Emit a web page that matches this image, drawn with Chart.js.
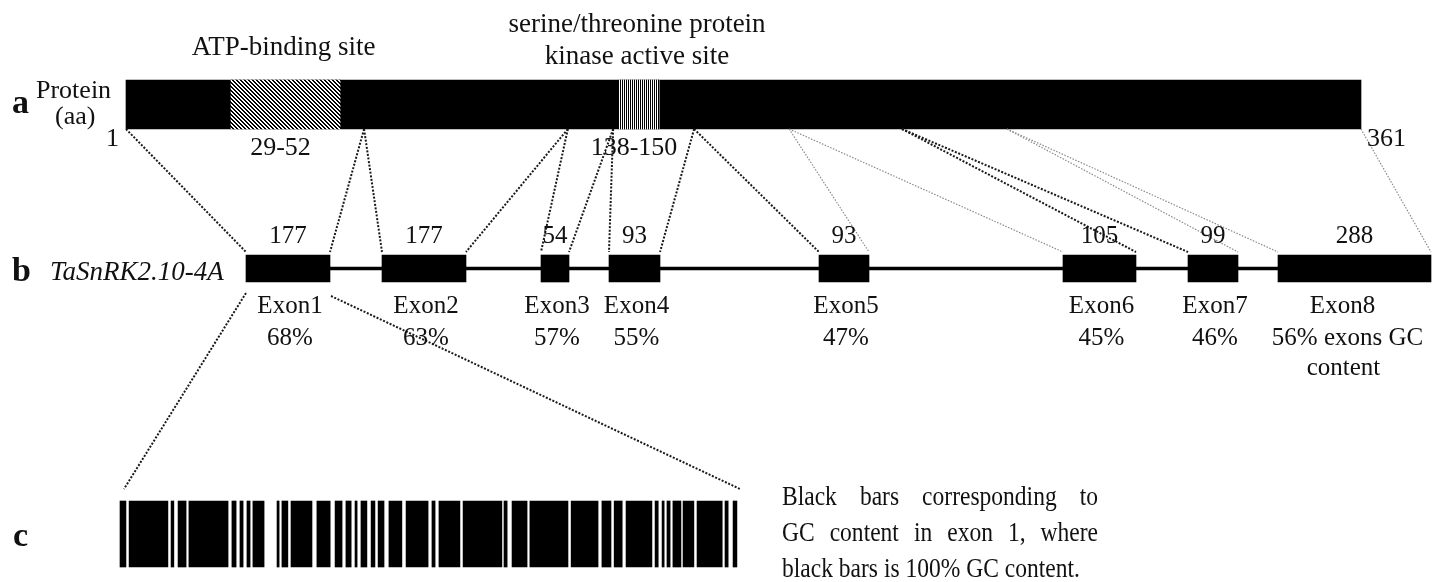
<!DOCTYPE html>
<html>
<head>
<meta charset="utf-8">
<script src="https://cdn.jsdelivr.net/npm/chart.js@4.4.1/dist/chart.umd.min.js"></script>
<style>
  html, body { margin: 0; padding: 0; background: #fff; }
</style>
</head>
<body>
<canvas id="chartGene" width="1445" height="582"></canvas>
<script>
// ---- data ----
const proteinLength = 361;
const domainNames = ['ATP-binding site', 'serine/threonine protein\nkinase active site'];
const domainLabels = ['29-52', '138-150'];
const domainStart = [31.6, 144.7];   // aa, as drawn
const domainEnd = [63.4, 156.4];
const proteinSplit = [70.4, 129.8, 143.0, 166.6, 194.3, 227.2, 257.8]; // aa where exons meet

const geneName = 'TaSnRK2.10-4A';
const exonNames = ['Exon1', 'Exon2', 'Exon3', 'Exon4', 'Exon5', 'Exon6', 'Exon7', 'Exon8'];
const exonLength = [177, 177, 54, 93, 93, 105, 99, 288];
const exonGC = [68, 63, 57, 55, 47, 45, 46, 56];
const exonStart = [0, 272, 590, 726, 1146, 1634, 1884, 2064];   // bp, as drawn
const exonEnd = [168, 440, 646, 828, 1246, 1780, 1984, 2370];

// exon 1 GC runs (nt)
const gcStart = [0, 2.6, 14.6, 16.6, 19.7, 32.0, 34.3, 36.3, 38.0, 44.9, 46.3, 48.9, 56.3, 61.5, 64.6, 67.2, 68.9, 71.8, 73.8, 76.9,
                 81.8, 89.2, 91.2, 98.1, 109.8, 112.1, 117.2, 129.0, 137.8, 141.3, 144.7, 153.0, 155.0, 156.4, 158.1, 161.0, 165.0, 173.0, 175.3];
const gcEnd = [1.7, 13.7, 15.4, 18.9, 30.9, 33.2, 35.2, 37.2, 41.2, 45.5, 48.0, 54.9, 60.1, 63.5, 66.1, 67.8, 70.6, 72.9, 75.5, 80.6,
               88.1, 90.1, 97.2, 109.2, 110.7, 116.4, 128.1, 136.7, 140.4, 143.6, 152.1, 153.9, 155.6, 157.3, 160.4, 164.1, 172.2, 173.9, 176.4];
const exon1Length = 177;

const noteLines = ['Black bars corresponding to', 'GC content in exon 1, where', 'black bars is 100% GC content.'];

// ---- layout ----
const W = 1445, H = 582;
const trackY = { protein: 104.5, gene: 268.5, barcode: 534 };
const thick = { protein: 49, exon: 27, intron: 3, barcode: 66 };
const splitStyle = ['dark', 'dark', 'dark', 'dark', 'light', 'dark', 'light'];
const SERIF = "'Liberation Serif', 'Times New Roman', serif";

// linear x scale that puts value v0 at pixel p0 and v1 at pixel p1
function spanScale(v0, p0, v1, p1) {
    const k = (v1 - v0) / (p1 - p0);
    return { type: 'linear', axis: 'x', display: false, bounds: 'data', offset: false, min: v0 - p0 * k, max: v0 + (W - p0) * k };
}

function makePattern(test) {
    const c = document.createElement('canvas');
    c.width = 4; c.height = 4;
    const g = c.getContext('2d');
    g.fillStyle = '#fff';
    g.fillRect(0, 0, 4, 4);
    g.fillStyle = '#000';
    for (let i = 0; i < 4; i++)
        for (let j = 0; j < 4; j++)
            if (test(i, j)) g.fillRect(i, j, 1, 1);
    return g.createPattern(c, 'repeat');
}
const diagHatch = makePattern((x, y) => ((x - y + 8) % 4) < 2);
const vertHatch = makePattern((x, y) => x % 2 == 0);

function dotted(ctx, x1, y1, x2, y2, style) {
    ctx.save();
    if (style == 'dark') {
        ctx.strokeStyle = '#1a1a1a';
        ctx.lineWidth = 2;
        ctx.setLineDash([2, 1.6]);
    } else {
        ctx.strokeStyle = '#8a8a8a';
        ctx.lineWidth = 1.2;
        ctx.setLineDash([1.5, 1.5]);
    }
    ctx.beginPath();
    ctx.moveTo(x1, y1);
    ctx.lineTo(x2, y2);
    ctx.stroke();
    ctx.restore();
}

function txt(ctx, s, x, y, size, align, style) {
    ctx.font = (style || '') + ' ' + size + 'px ' + SERIF;
    ctx.textAlign = align || 'center';
    ctx.textBaseline = 'alphabetic';
    ctx.fillStyle = '#111';
    ctx.fillText(s, x, y);
}

function justified(ctx, line, x, y, width, sx, justify) {
    ctx.save();
    ctx.translate(x, y);
    ctx.scale(sx, 1);
    ctx.font = '28px ' + SERIF;
    ctx.textAlign = 'left';
    ctx.fillStyle = '#111';
    const words = line.split(' ');
    const widths = words.map(w => ctx.measureText(w).width);
    const total = widths.reduce((a, b) => a + b, 0);
    const gap = justify ? (width / sx - total) / (words.length - 1) : ctx.measureText(' ').width;
    let cx = 0;
    words.forEach((w, i) => {
        ctx.fillText(w, cx, 0);
        cx += widths[i] + gap;
    });
    ctx.restore();
}

const geneArt = {
    id: 'geneArt',
    afterDatasetsDraw(chart) {
        const ctx = chart.ctx;
        const sa = chart.scales.xAa, sb = chart.scales.xBp, sn = chart.scales.xNt, sy = chart.scales.y;
        const pBottom = sy.getPixelForValue(trackY.protein) + thick.protein / 2;
        const gMid = sy.getPixelForValue(trackY.gene);
        const gTop = gMid - thick.exon / 2 - 3;
        const gBottom = gMid + thick.exon / 2;
        const bTop = sy.getPixelForValue(trackY.barcode) - thick.barcode / 2;

        // protein -> exon connectors
        dotted(ctx, sa.getPixelForValue(1), pBottom, sb.getPixelForValue(exonStart[0]), gTop, 'dark');
        proteinSplit.forEach((aa, i) => {
            const px = sa.getPixelForValue(aa);
            dotted(ctx, px, pBottom, sb.getPixelForValue(exonEnd[i]), gTop, splitStyle[i]);
            dotted(ctx, px, pBottom, sb.getPixelForValue(exonStart[i + 1]), gTop, splitStyle[i]);
        });
        dotted(ctx, sa.getPixelForValue(proteinLength), pBottom, sb.getPixelForValue(exonEnd[exonEnd.length - 1]), gTop, 'light');

        // exon 1 -> barcode connectors
        dotted(ctx, sb.getPixelForValue(exonStart[0]), gBottom + 11, sn.getPixelForValue(0) + 4, bTop - 12, 'dark');
        dotted(ctx, sb.getPixelForValue(exonEnd[0]) + 1, gBottom + 14, sn.getPixelForValue(exon1Length) + 1, bTop - 12, 'dark');

        // panel letters
        txt(ctx, 'a', 12, 113, 34, 'left', 'bold');
        txt(ctx, 'b', 12, 281, 34, 'left', 'bold');
        txt(ctx, 'c', 13, 546, 34, 'left', 'bold');

        // protein row text
        txt(ctx, 'Protein', 36, 98, 26, 'left');
        txt(ctx, '(aa)', 55, 124, 26, 'left');
        txt(ctx, '1', sa.getPixelForValue(1) - 7, pBottom + 17, 26, 'right');
        txt(ctx, String(proteinLength), sa.getPixelForValue(proteinLength) + 6, pBottom + 17, 26, 'left');
        domainNames.forEach((name, i) => {
            const cx = sa.getPixelForValue((domainStart[i] + domainEnd[i]) / 2);
            const lines = name.split('\n');
            const base = lines.length > 1 ? 64 : 55;
            lines.forEach((ln, j) => txt(ctx, ln, cx - 2, base - (lines.length - 1 - j) * 32, 27));
            txt(ctx, domainLabels[i], cx - 5, pBottom + 26, 26);
        });

        // gene row text
        txt(ctx, geneName, 50, 280, 27, 'left', 'italic');
        exonNames.forEach((name, i) => {
            const cx = sb.getPixelForValue((exonStart[i] + exonEnd[i]) / 2);
            txt(ctx, String(exonLength[i]), cx, 243, 25);
            const last = i == exonNames.length - 1;
            txt(ctx, name, last ? cx - 12 : cx + 2, 313, 25);
            if (last) {
                txt(ctx, exonGC[i] + '% exons GC', cx - 7, 345, 25);
                txt(ctx, 'content', cx - 11, 375, 25);
            } else {
                txt(ctx, exonGC[i] + '%', cx + 2, 345, 25);
            }
        });

        // note
        const noteX = 782, noteW = 316, sx = 0.84;
        noteLines.forEach((ln, i) => justified(ctx, ln, noteX, 505 + i * 36, noteW, sx, i < noteLines.length - 1));
    }
};

const datasets = [
    {
        label: 'domains', xAxisID: 'xAa', yAxisID: 'y', order: 1,
        data: domainStart.map((s, i) => ({ x: [s, domainEnd[i]], y: trackY.protein })),
        backgroundColor: [diagHatch, vertHatch],
        barThickness: thick.protein
    },
    {
        label: 'protein', xAxisID: 'xAa', yAxisID: 'y', order: 2,
        data: [{ x: [1, proteinLength], y: trackY.protein }],
        backgroundColor: '#000',
        barThickness: thick.protein
    },
    {
        label: 'exons', xAxisID: 'xBp', yAxisID: 'y', order: 1,
        data: exonStart.map((s, i) => ({ x: [s, exonEnd[i]], y: trackY.gene })),
        backgroundColor: '#000',
        barThickness: thick.exon
    },
    {
        label: 'introns', xAxisID: 'xBp', yAxisID: 'y', order: 3,
        data: [{ x: [exonEnd[0], exonStart[exonStart.length - 1]], y: trackY.gene }],
        backgroundColor: '#000',
        barThickness: thick.intron
    },
    {
        label: 'gc', xAxisID: 'xNt', yAxisID: 'y', order: 1,
        data: gcStart.map((s, i) => ({ x: [s, gcEnd[i]], y: trackY.barcode })),
        backgroundColor: '#000',
        barThickness: thick.barcode
    }
];
datasets.forEach(d => { d.grouped = false; d.borderWidth = 0; });

const chartGene = new Chart(document.getElementById('chartGene'), {
    type: 'bar',
    data: { datasets: datasets },
    options: {
        indexAxis: 'y',
        responsive: false,
        devicePixelRatio: 1,
        animation: false,
        layout: { padding: 0 },
        plugins: { legend: { display: false }, tooltip: { enabled: false } },
        scales: {
            y: { type: 'linear', axis: 'y', display: false, bounds: 'data', offset: false, grace: 0, min: 0, max: H, reverse: true },
            xAa: spanScale(1, 126, proteinLength, 1361),
            xBp: spanScale(0, 246, 2000, 1246),
            xNt: spanScale(0, 120, exon1Length, 739)
        }
    },
    plugins: [geneArt]
});
</script>
</body>
</html>
